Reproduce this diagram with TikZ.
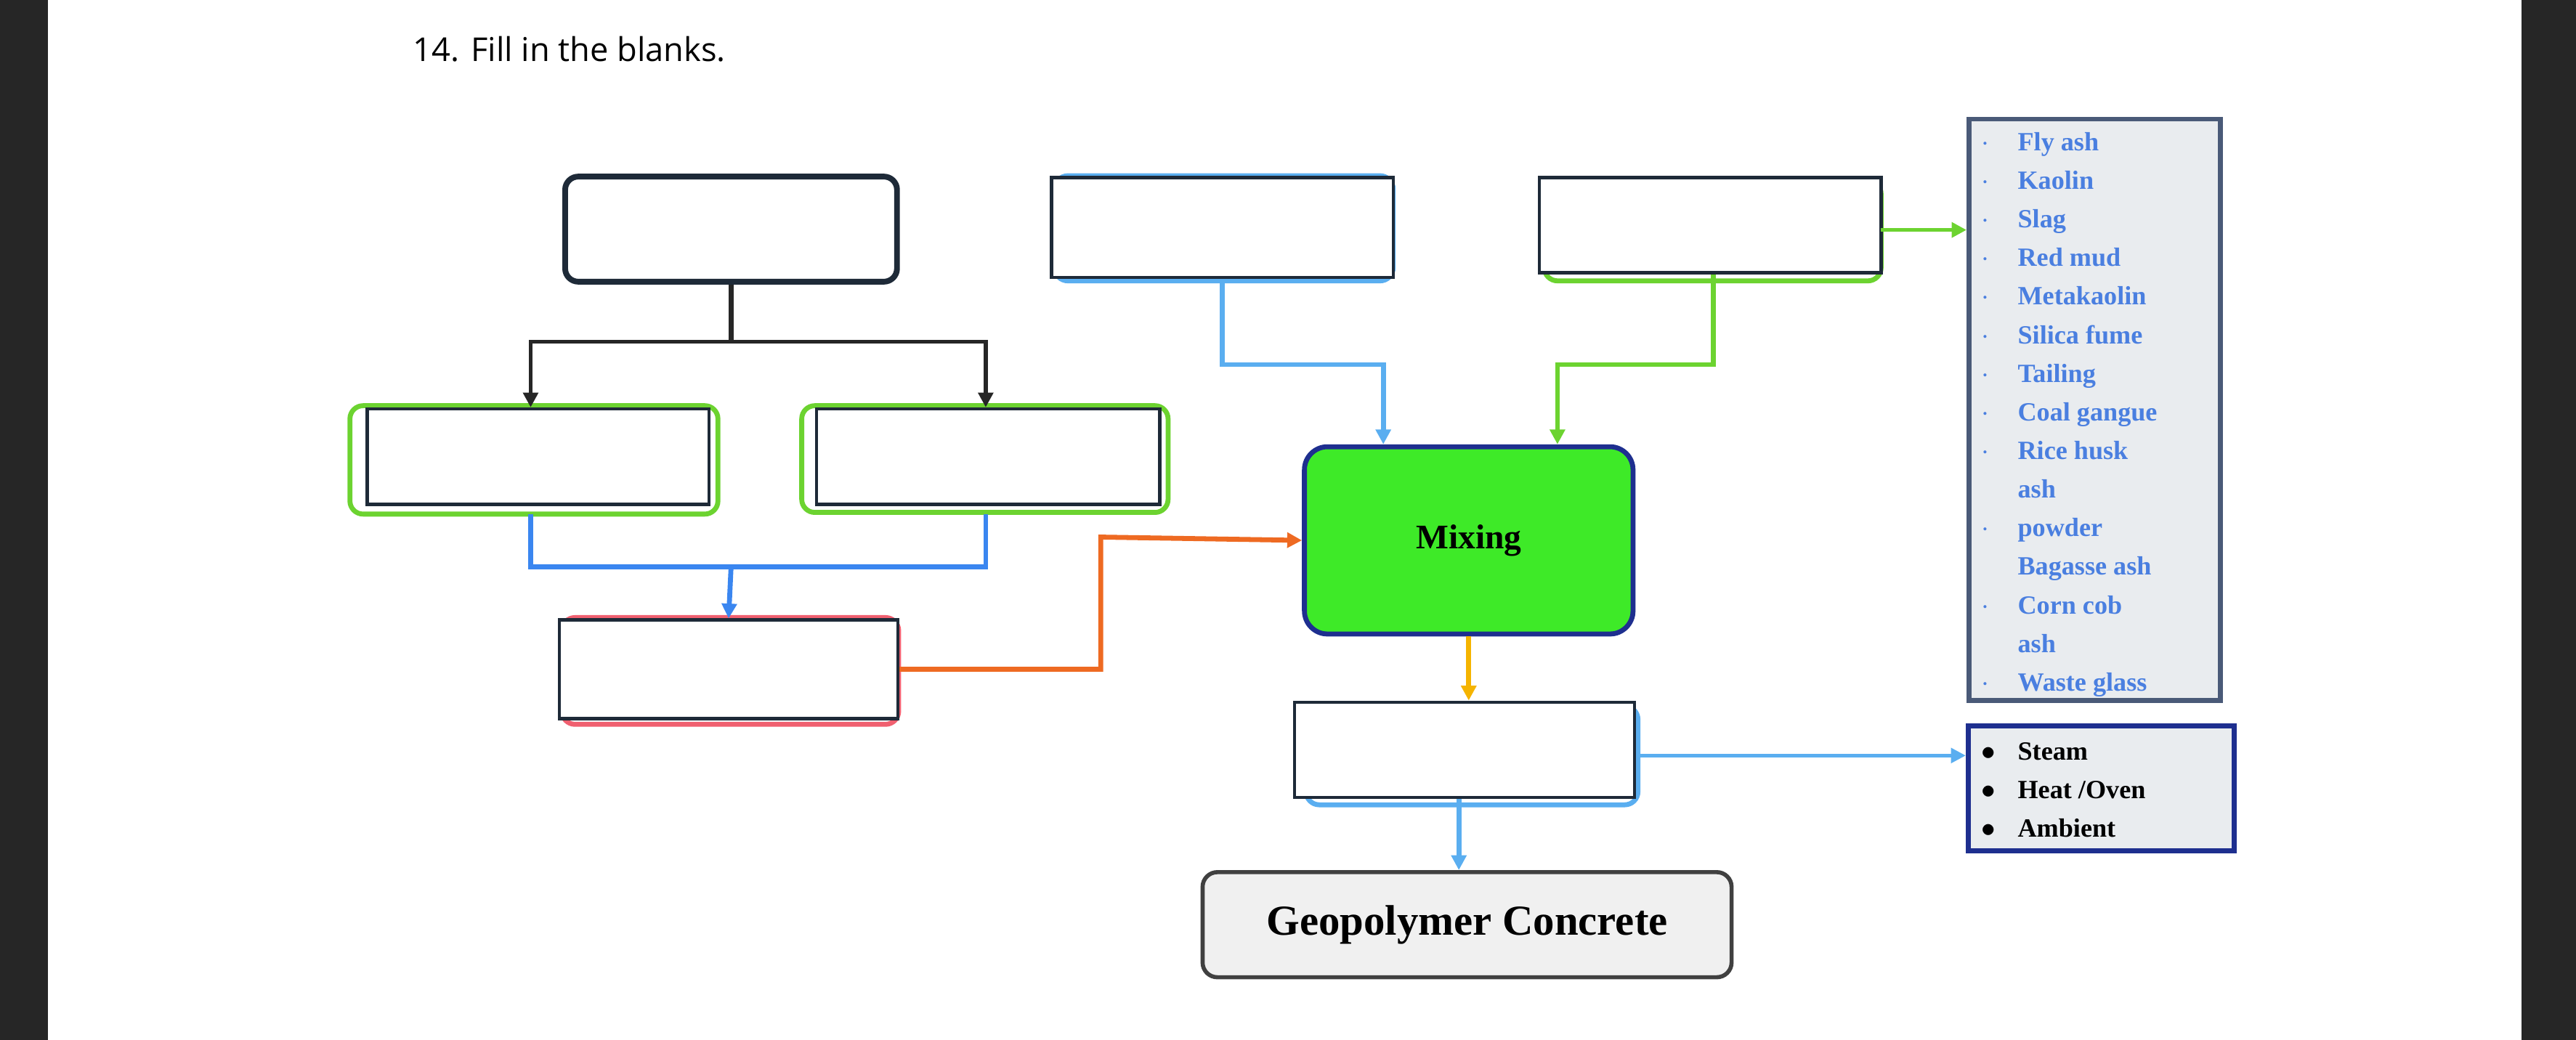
\documentclass[tikz,border=0pt]{standalone}
\usepackage{fontspec}
\setmainfont{Liberation Serif}
\newfontfamily\titlefont{Open Sans}
\usetikzlibrary{arrows.meta}
\definecolor{cgreen}{HTML}{6CD330}
\definecolor{cblue}{HTML}{3A86F0}
\definecolor{clblue}{HTML}{5AAEF0}
\definecolor{corange}{HTML}{EE6A22}
\definecolor{cyellow}{HTML}{F5B400}
\definecolor{cred}{HTML}{F06070}
\definecolor{cdark}{HTML}{1E2A38}
\definecolor{cnavy}{HTML}{1E2F8F}
\definecolor{cgrayblue}{HTML}{4A5A78}
\definecolor{clist}{HTML}{4A7FE0}
\definecolor{cmix}{HTML}{3EEA28}
\definecolor{cpanel}{HTML}{E9ECEF}
\begin{document}
\begin{tikzpicture}[x=1pt,y=-1pt,
  blank/.style={draw=cdark,line width=2pt,fill=white,inner sep=0pt,minimum width=#1},
  shadow/.style={line width=3pt,rounded corners=8pt},
  conn/.style={line width=3pt,-{Triangle[length=9pt,width=9pt]}},
  plain/.style={line width=3pt},
  lst/.style={font=\bfseries\fontsize{16}{23.5}\selectfont,align=left,anchor=north west,inner sep=0pt}]
\useasboundingbox (0,0) rectangle (1568,633);
\fill[black!85] (0,0) rectangle (29,633);
\fill[black!85] (1535,0) rectangle (1568,633);
\node[anchor=west,font=\titlefont\fontsize{20}{24}\selectfont] (title) at (248,30) {14. Fill in the blanks.};
% shadows
\draw[shadow,draw=cgreen] (213,247) rectangle (437,313);
\draw[shadow,draw=cgreen] (488,247) rectangle (711,312);
\draw[shadow,draw=clblue] (642,107) rectangle (848,171);
\draw[shadow,draw=cgreen] (940,110) rectangle (1145,171);
\draw[shadow,draw=cred] (342,376) rectangle (547,441);
\draw[shadow,draw=clblue] (795,430) rectangle (997,490);
% boxes
\node[draw=cdark,line width=3.5pt,rounded corners=8pt,fill=white,minimum width=202pt,minimum height=64pt] (a) at (445,139.5) {};
\node[blank=208pt,minimum height=58pt] (l) at (327.5,278) {};
\node[blank=209pt,minimum height=58pt] (r) at (601.5,278) {};
\node[blank=206pt,minimum height=60pt] (d) at (443.5,407.5) {};
\node[blank=208pt,minimum height=61pt] (b) at (744,138.5) {};
\node[blank=208pt,minimum height=58pt] (c) at (1041,137) {};
\node[draw=cnavy,line width=3pt,rounded corners=14pt,fill=cmix,minimum width=200pt,minimum height=114pt,font=\bfseries\fontsize{21}{24}\selectfont] (mix) at (894,329) {Mixing};
\node[blank=207pt,minimum height=58pt] (e) at (891.5,456.5) {};
\node[draw=black!75,line width=2.5pt,rounded corners=9pt,fill=black!6,minimum width=322pt,minimum height=64pt,font=\bfseries\fontsize{26}{30}\selectfont] (g) at (893,563) {Geopolymer Concrete};
\node[draw=cgrayblue,line width=3pt,fill=cpanel,minimum width=153pt,minimum height=354pt,inner sep=0pt] (p1) at (1275,249.5) {};
\node[draw=cnavy,line width=3pt,fill=cpanel,minimum width=162pt,minimum height=76pt,inner sep=0pt] (p2) at (1279,480) {};
\node[lst,text=clist] (t1) at (1206,75) {\tabular{@{}p{22pt}@{}l@{}}%
$\cdot$& Fly ash\\ $\cdot$& Kaolin\\ $\cdot$& Slag\\ $\cdot$& Red mud\\ $\cdot$& Metakaolin\\ $\cdot$& Silica fume\\ $\cdot$& Tailing\\ $\cdot$& Coal gangue\\ $\cdot$& Rice husk\\ & ash\\ $\cdot$& powder\\ & Bagasse ash\\ $\cdot$& Corn cob\\ & ash\\ $\cdot$& Waste glass\endtabular};
\node[lst,text=black] (t2) at (1206,446) {\tabular{@{}p{22pt}@{}l@{}}%
$\bullet$& Steam\\ $\bullet$& Heat /Oven\\ $\bullet$& Ambient\endtabular};
% connectors
\coordinate (j1) at (445,208);
\draw[plain,draw=black!85] (a.south) -- (j1);
\draw[conn,draw=black!85,line width=2.5pt] (j1) -| (l.north -| 323,0);
\draw[conn,draw=black!85,line width=2.5pt] (j1) -| (r.north -| 600,0);
\coordinate (j2) at (445,345);
\draw[plain,draw=cblue] (323,313) |- (j2) -| (600,313);
\draw[conn,draw=cblue] (j2) -- (d.north);
\draw[conn,draw=corange] (d.east) -| (670,327) -- (mix.west);
\draw[conn,draw=clblue] (b.south) |- (842,222) -- (mix.north -| 842,0);
\draw[conn,draw=cgreen] (c.south -| 1043,0) |- (948,222) -- (mix.north -| 948,0);
\draw[conn,draw=cgreen,line width=2.5pt] (1145,140) -- (p1.west |- 0,140);
\draw[conn,draw=cyellow] (mix.south) -- (e.north -| mix.south);
\draw[conn,draw=clblue] (e.south -| 888,0) -- (g.north -| 888,0);
\draw[conn,draw=clblue,line width=2pt] (e.east |- 0,460) -- (p2.west |- 0,460);
\end{tikzpicture}
\end{document}
